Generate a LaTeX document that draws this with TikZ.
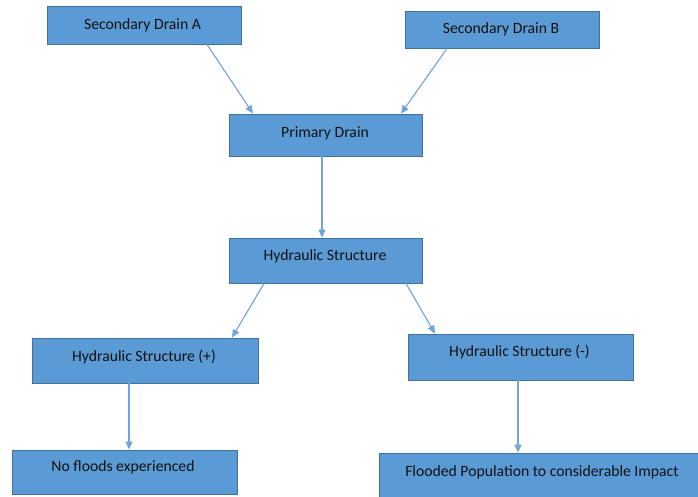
\documentclass[tikz,border=0pt]{standalone}
\usepackage{fontspec}
\setmainfont{Carlito}
\usetikzlibrary{arrows.meta}
\definecolor{boxfill}{HTML}{5B9BD5}
\definecolor{boxline}{HTML}{41719C}
\definecolor{arrowc}{HTML}{6FA5DA}
\definecolor{txtc}{HTML}{111111}
\tikzset{
  box/.style={draw=boxline, fill=boxfill, line width=0.9pt, inner sep=0pt, minimum width=#1},
  lbl/.style={text=txtc, font=\fontsize{15.7}{17}\selectfont, inner sep=0pt},
  conn/.style={draw=arrowc, line width=1.1pt, -{Triangle[length=8pt,width=7pt]}}
}
\begin{document}
\begin{tikzpicture}[x=1pt,y=-1pt]
\clip (0,0) rectangle (698,496);
\fill[white] (0,0) rectangle (698,496);
% boxes
\node[box=194pt, minimum height=38pt] (a) at (144,25) {};
\node[box=194pt, minimum height=37pt] (b) at (502,29.5) {};
\node[box=193pt, minimum height=42pt] (p) at (325.5,135) {};
\node[box=193pt, minimum height=45pt] (h) at (325.5,260.5) {};
\node[box=226pt, minimum height=45pt] (hp) at (145,360.5) {};
\node[box=225pt, minimum height=46pt] (hm) at (520.5,357) {};
\node[box=225pt, minimum height=44pt] (nf) at (124.5,472) {};
\node[box=326pt, minimum height=47pt] (fp) at (542,476.5) {};
% labels
\node[lbl] (a-t) at (142.5,25) {Secondary Drain A};
\node[lbl] (b-t) at (501,29) {Secondary Drain B};
\node[lbl] (p-t) at (325,133) {Primary Drain};
\node[lbl] (h-t) at (325,256) {Hydraulic Structure};
\node[lbl] (hp-t) at (144,357) {Hydraulic Structure (+)};
\node[lbl] (hm-t) at (519.5,352) {Hydraulic Structure (-)};
\node[lbl] (nf-t) at (123,467) {No floods experienced};
\node[lbl] (fp-t) at (542,472) {Flooded Population to considerable Impact};
% connectors
\draw[conn] ([xshift=63pt]a.south) -- ([xshift=-72.5pt]p.north);
\draw[conn] ([xshift=-55pt]b.south) -- ([xshift=75.5pt]p.north);
\draw[conn] ([xshift=-3.5pt]p.south) -- ([xshift=-3.5pt]h.north);
\draw[conn] ([xshift=-61.5pt]h.south) -- ([xshift=87pt]hp.north);
\draw[conn] ([xshift=80.5pt]h.south) -- ([xshift=-85.5pt]hm.north);
\draw[conn] ([xshift=-16pt]hp.south) -- ([xshift=4.5pt]nf.north);
\draw[conn] ([xshift=-2.5pt]hm.south) -- ([xshift=-24pt]fp.north);
\end{tikzpicture}
\end{document}
